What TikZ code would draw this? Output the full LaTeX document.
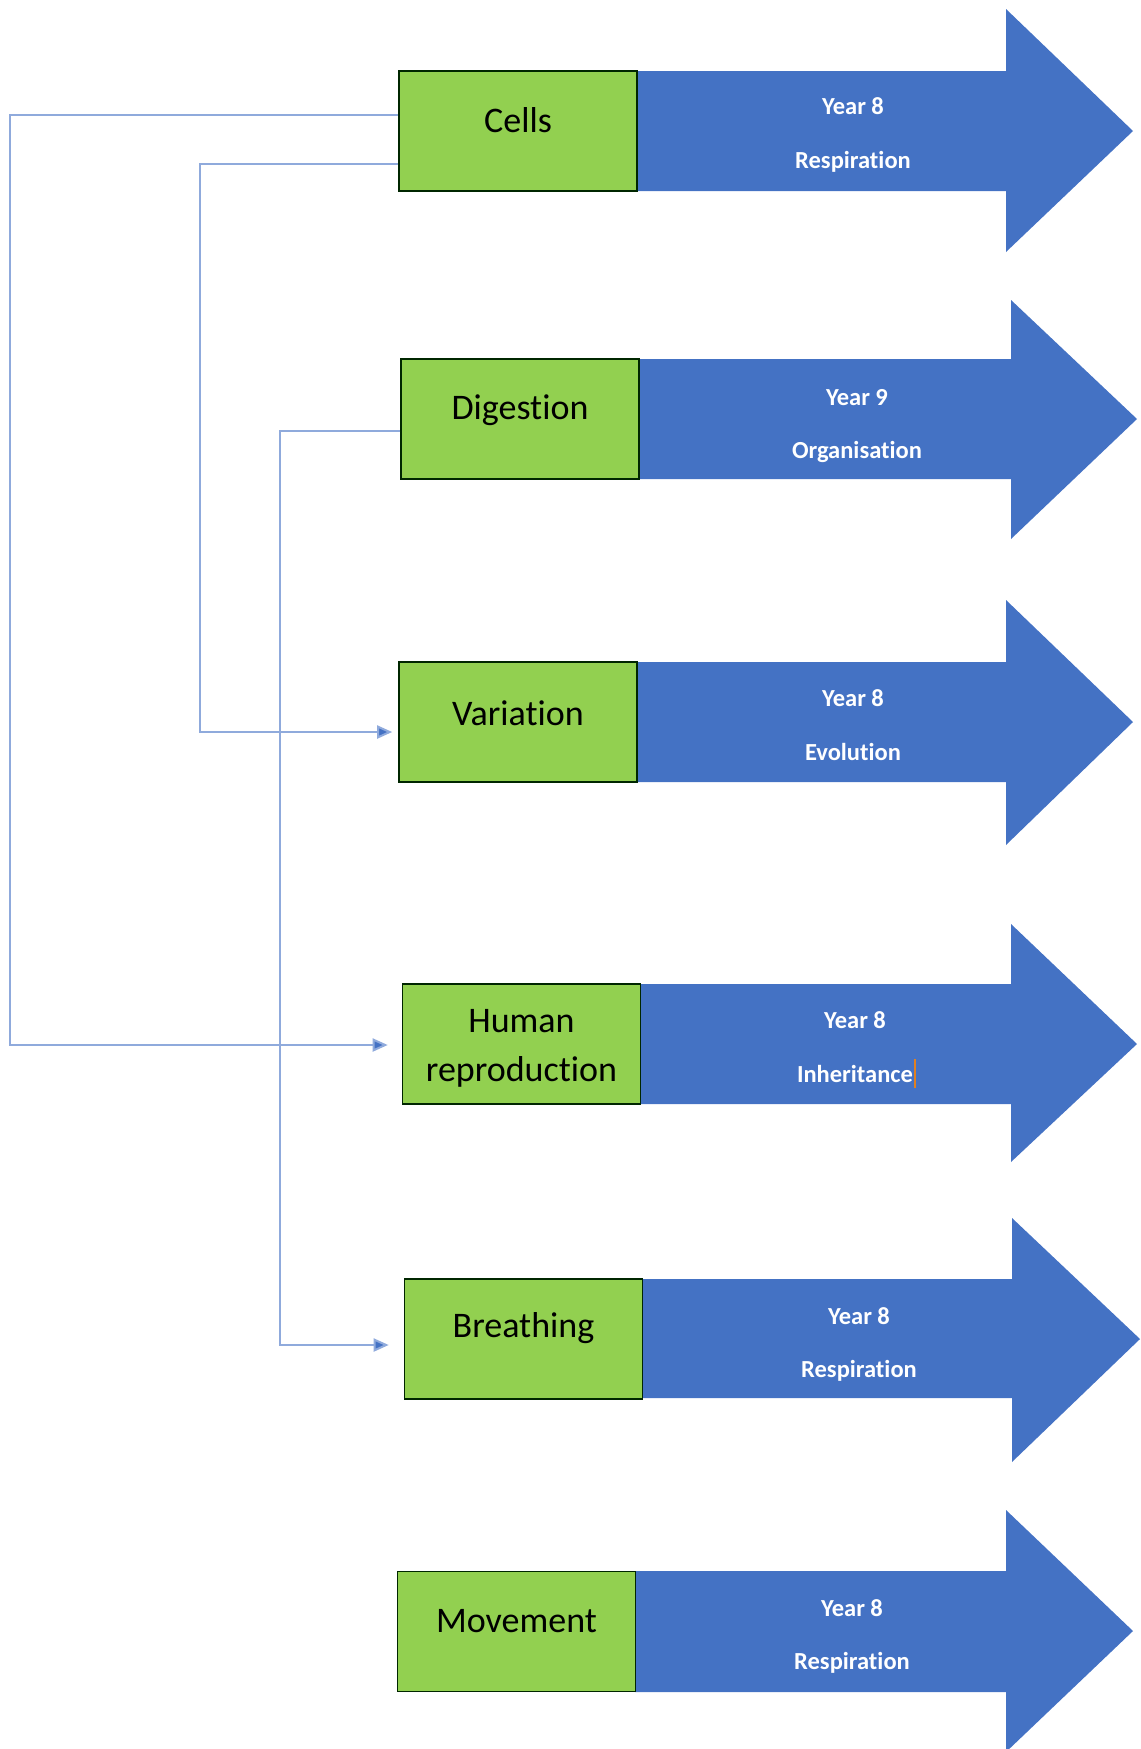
\documentclass[tikz,border=0pt]{standalone}
\usepackage{fontspec}
\setmainfont{Carlito}[Ligatures=NoCommon]
\usetikzlibrary{arrows.meta}
\definecolor{boxgreen}{HTML}{92D050}
\definecolor{arrblue}{HTML}{4472C4}
\definecolor{connblue}{HTML}{8FAADC}
\definecolor{cursor}{HTML}{E08020}
\tikzset{
  greenbox/.style={draw=black!75!green!60!black, line width=1.6pt, fill=boxgreen, minimum width=238pt, minimum height=120pt, inner sep=0pt},
  boxlabel/.style={font=\fontsize{36}{49}\selectfont, align=center, text=black, inner sep=0pt},
  yeartxt/.style={font=\fontsize{24.5}{30}\selectfont\bfseries, text=white, inner sep=0pt},
  bigarrow/.style={fill=arrblue},
  conn/.style={draw=connblue, line width=2pt, -{Triangle[length=15pt,width=13pt,fill=arrblue]}}
}
\begin{document}
\begin{tikzpicture}[x=1pt,y=-1pt]
\useasboundingbox (0,0) rectangle (1141,1749);
% big arrows
\fill[bigarrow] (637,71) -- (1006,71) -- (1006,9) -- (1133,131) -- (1006,252) -- (1006,191) -- (637,191) -- cycle;
\fill[bigarrow] (640,359) -- (1011,359) -- (1011,300) -- (1137,419) -- (1011,539) -- (1011,479) -- (640,479) -- cycle;
\fill[bigarrow] (637,662) -- (1006,662) -- (1006,600) -- (1133,722) -- (1006,845) -- (1006,782) -- (637,782) -- cycle;
\fill[bigarrow] (641,984) -- (1011,984) -- (1011,924) -- (1137,1044) -- (1011,1162) -- (1011,1104) -- (641,1104) -- cycle;
\fill[bigarrow] (643,1279) -- (1012,1279) -- (1012,1218) -- (1140,1339) -- (1012,1462) -- (1012,1398) -- (643,1398) -- cycle;
\fill[bigarrow] (635,1571) -- (1006,1571) -- (1006,1510) -- (1133,1631) -- (1006,1752) -- (1006,1692) -- (635,1692) -- cycle;
% green boxes
\node[greenbox] (cells) at (518,131) {};
\node[greenbox] (digestion) at (520,419) {};
\node[greenbox] (variation) at (518,722) {};
\node[greenbox] (human) at (521.5,1044) {};
\node[greenbox] (breathing) at (523.5,1339) {};
\node[greenbox] (movement) at (516.5,1631.5) {};
% box labels
\node[boxlabel] (cellsL) at ([yshift=11pt]cells.center) {Cells};
\node[boxlabel] (digestionL) at ([yshift=9pt]digestion.center) {Digestion};
\node[boxlabel] (variationL) at ([yshift=9pt]variation.center) {Variation};
\node[boxlabel] (humanL) at ([yshift=-4pt]human.center) {Human\\reproduction};
\node[boxlabel] (breathingL) at ([yshift=11pt]breathing.center) {Breathing};
\node[boxlabel] (movementL) at ([yshift=10pt]movement.center) {Movement};
% arrow texts
\node[yeartxt] (cellsY) at (853,106) {Year 8};
\node[yeartxt] (cellsT) at (853,162) {Respiration};
\node[yeartxt] (digestionY) at (857,398) {Year 9};
\node[yeartxt] (digestionT) at (857,452) {Organisation};
\node[yeartxt] (variationY) at (853,698) {Year 8};
\node[yeartxt] (variationT) at (853,752) {Evolution};
\node[yeartxt] (humanY) at (855,1020) {Year 8};
\node[yeartxt] (humanT) at (855,1074) {Inheritance};
\draw[cursor, line width=1.5pt] ([xshift=2pt]humanT.east |- 0,1059) -- ([xshift=2pt]humanT.east |- 0,1088);
\node[yeartxt] (breathingY) at (859,1316) {Year 8};
\node[yeartxt] (breathingT) at (859,1371) {Respiration};
\node[yeartxt] (movementY) at (852,1608) {Year 8};
\node[yeartxt] (movementT) at (852,1663) {Respiration};
% connectors
\draw[conn] (cells.west |- 0,115) -- (10,115) -- (10,1045) -- ([xshift=-14pt]human.west |- 0,1045);
\draw[conn] (cells.west |- 0,164) -- (200,164) -- (200,732) -- ([xshift=-6pt]variation.west |- 0,732);
\draw[conn] (digestion.west |- 0,431) -- (280,431) -- (280,1345) -- ([xshift=-15pt]breathing.west |- 0,1345);
\end{tikzpicture}
\end{document}
